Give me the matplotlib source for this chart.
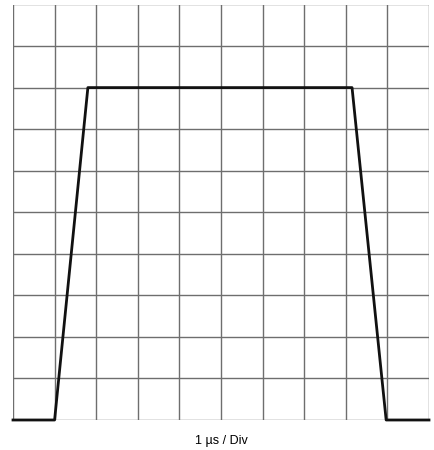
import matplotlib
matplotlib.use('Agg')
import matplotlib.pyplot as plt

# waveform corner points, in divisions
time_div = [0, 1.0, 1.8, 8.15, 8.97, 10]
level_div = [0, 0, 8, 8, 0, 0]

n_div = 10
x_label = '1 µs / Div'

fig = plt.figure(figsize=(4.35, 4.5), dpi=100)
ax = fig.add_axes([13 / 435, 30 / 450, 416 / 435, 415.5 / 450])

# scope graticule
for i in range(n_div + 1):
    ax.axvline(i, color='#6e6e6e', lw=1.0, zorder=1)
    ax.axhline(i, color='#6e6e6e', lw=1.0, zorder=1)

ax.plot(time_div, level_div, color='#111111', lw=2.0, solid_joinstyle='round', zorder=3, clip_on=False)

ax.set_xlim(0, n_div)
ax.set_ylim(0, n_div)
ax.set_xticks([])
ax.set_yticks([])
for s in ax.spines.values():
    s.set_visible(False)

ax.set_xlabel(x_label, fontsize=9, family='Liberation Sans', labelpad=11)

fig.savefig('out.png', dpi=100)
